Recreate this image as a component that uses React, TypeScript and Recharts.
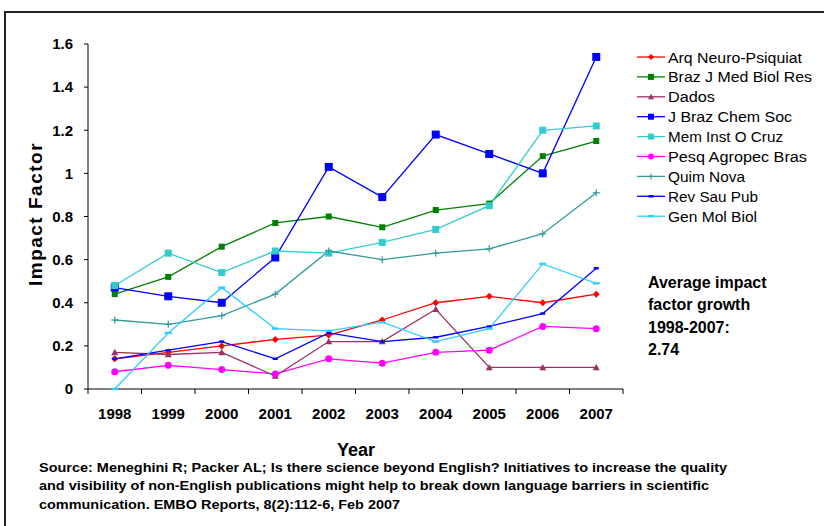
import { LineChart, Line, XAxis, YAxis } from 'recharts'

const years = [1998, 1999, 2000, 2001, 2002, 2003, 2004, 2005, 2006, 2007]
const yTicks = [0, 0.2, 0.4, 0.6, 0.8, 1, 1.2, 1.4, 1.6]

const arqNeuro = [0.14, 0.17, 0.2, 0.23, 0.25, 0.32, 0.4, 0.43, 0.4, 0.44]
const brazJMed = [0.44, 0.52, 0.66, 0.77, 0.8, 0.75, 0.83, 0.86, 1.08, 1.15]
const dados = [0.17, 0.16, 0.17, 0.06, 0.22, 0.22, 0.37, 0.1, 0.1, 0.1]
const jBrazChem = [0.47, 0.43, 0.4, 0.61, 1.03, 0.89, 1.18, 1.09, 1.0, 1.54]
const memInst = [0.48, 0.63, 0.54, 0.64, 0.63, 0.68, 0.74, 0.85, 1.2, 1.22]
const pesqAgro = [0.08, 0.11, 0.09, 0.07, 0.14, 0.12, 0.17, 0.18, 0.29, 0.28]
const quimNova = [0.32, 0.3, 0.34, 0.44, 0.64, 0.6, 0.63, 0.65, 0.72, 0.91]
const revSau = [0.14, 0.18, 0.22, 0.14, 0.26, 0.22, 0.24, 0.29, 0.35, 0.56]
const genMol = [0, 0.26, 0.47, 0.28, 0.27, 0.31, 0.22, 0.28, 0.58, 0.49]

const sourceLines = [
  'Source: Meneghini R; Packer AL; Is there science beyond English? Initiatives to increase the quality',
  'and visibility of non-English publications might help to break down language barriers in scientific',
  'communication. EMBO Reports, 8(2):112-6, Feb 2007',
]
const noteLines = ['Average impact', 'factor growth', '1998-2007:', '2.74']

type Kind = 'diamond' | 'square' | 'triangle' | 'circle' | 'plus' | 'dash'

const series: { key: string; name: string; values: number[]; color: string; kind: Kind; size: number }[] = [
  { key: 'arq', name: 'Arq Neuro-Psiquiat', values: arqNeuro, color: '#FF0000', kind: 'diamond', size: 7 },
  { key: 'braz', name: 'Braz J Med Biol Res', values: brazJMed, color: '#008000', kind: 'square', size: 6 },
  { key: 'dados', name: 'Dados', values: dados, color: '#993366', kind: 'triangle', size: 7 },
  { key: 'jbcs', name: 'J Braz Chem Soc', values: jBrazChem, color: '#0000FF', kind: 'square', size: 8 },
  { key: 'mem', name: 'Mem Inst O Cruz', values: memInst, color: '#33CCCC', kind: 'square', size: 7 },
  { key: 'pesq', name: 'Pesq Agropec Bras', values: pesqAgro, color: '#FF00FF', kind: 'circle', size: 7 },
  { key: 'quim', name: 'Quim Nova', values: quimNova, color: '#339999', kind: 'plus', size: 7 },
  { key: 'rev', name: 'Rev Sau Pub', values: revSau, color: '#0000FF', kind: 'dash', size: 5 },
  { key: 'gen', name: 'Gen Mol Biol', values: genMol, color: '#33CCFF', kind: 'dash', size: 7 },
]

// rendered widths of the legend labels in the original
const legendTextWidths = [134, 144, 47, 124, 115, 139, 77, 90, 89]
const sourceTextWidths = [688, 670, 361]

const data = years.map((year, i) => {
  const row: Record<string, number> = { year }
  series.forEach((s) => { row[s.key] = s.values[i] })
  return row
})

const xTicks = [...years.flatMap((y) => [y - 0.5, y]), years[years.length - 1] + 0.5]

const FONT = '"Liberation Sans", Arial, sans-serif'

function Marker({ kind, cx, cy, color, size }: { kind: Kind; cx: number; cy: number; color: string; size: number }) {
  const h = size / 2
  if (kind === 'diamond')
    return <polygon points={`${cx},${cy - h} ${cx + h},${cy} ${cx},${cy + h} ${cx - h},${cy}`} fill={color} />
  if (kind === 'square') return <rect x={cx - h} y={cy - h} width={size} height={size} fill={color} />
  if (kind === 'triangle')
    return <polygon points={`${cx},${cy - h} ${cx + h},${cy + h * 0.8} ${cx - h},${cy + h * 0.8}`} fill={color} />
  if (kind === 'circle') return <circle cx={cx} cy={cy} r={h} fill={color} />
  if (kind === 'plus')
    return (
      <g stroke={color} strokeWidth={1.2}>
        <line x1={cx - h} x2={cx + h} y1={cy} y2={cy} />
        <line x1={cx} x2={cx} y1={cy - h} y2={cy + h} />
      </g>
    )
  return <rect x={cx - h} y={cy - 1.2} width={size} height={2.4} fill={color} />
}

const XTick = (props: any) => {
  const { x, y, payload } = props
  const v = payload.value
  if (Number.isInteger(v)) {
    return (
      <text x={x} y={y + 25} textAnchor="middle" fontSize={15} fontWeight={700} fontFamily={FONT} fill="#000">
        {v}
      </text>
    )
  }
  return <line x1={x} x2={x} y1={y - 5} y2={y} stroke="#000" />
}

export default function App() {
  return (
    <div style={{ position: 'absolute', left: 0, top: 0, width: 824, height: 526, background: '#fff', overflow: 'hidden' }}>
      <LineChart width={824} height={526} data={data} margin={{ top: 44, right: 201, bottom: 107, left: 0 }}>
        <XAxis
          dataKey="year"
          type="number"
          domain={[1997.5, 2007.5]}
          ticks={xTicks}
          interval={0}
          tickLine={false}
          tickSize={5}
          tickMargin={0}
          height={30}
          axisLine={{ stroke: '#000' }}
          tick={<XTick />}
        />
        <XAxis
          xAxisId="top"
          orientation="top"
          dataKey="year"
          type="number"
          domain={[1997.5, 2007.5]}
          tick={false}
          tickLine={false}
          height={0}
          axisLine={{ stroke: '#000' }}
        />
        <YAxis
          domain={[0, 1.6]}
          ticks={yTicks}
          width={88}
          tickSize={4}
          tickMargin={11}
          axisLine={{ stroke: '#000' }}
          tickLine={{ stroke: '#000' }}
          tick={{ fill: '#000', fontSize: 15, fontWeight: 700, fontFamily: FONT }}
        />
        <YAxis
          yAxisId="right"
          orientation="right"
          domain={[0, 1.6]}
          tick={false}
          tickLine={false}
          width={0}
          axisLine={{ stroke: '#000' }}
        />
        {series.map((s) => (
          <Line
            key={s.key}
            dataKey={s.key}
            name={s.name}
            stroke={s.color}
            strokeWidth={1.3}
            isAnimationActive={false}
            activeDot={false}
            dot={(p: any) => (
              <Marker key={`${s.key}-${p.index}`} kind={s.kind} cx={p.cx} cy={p.cy} color={s.color} size={s.size} />
            )}
          />
        ))}
      </LineChart>
      <svg width={824} height={526} style={{ position: 'absolute', left: 0, top: 0, pointerEvents: 'none' }}>
        <rect x={5} y={12} width={900} height={600} fill="none" stroke="#222" strokeWidth={2} />
        <text
          transform="translate(42,214) rotate(-90)"
          textAnchor="middle"
          fontSize={19}
          fontWeight={700}
          letterSpacing={1.5}
          fontFamily={FONT}
          fill="#000"
        >
          Impact Factor
        </text>
        <text x={356} y={456} textAnchor="middle" fontSize={18} fontWeight={700} fontFamily={FONT} fill="#000">
          Year
        </text>
        {series.map((s, i) => {
          const cy = 57 + i * 19.9
          return (
            <g key={s.key}>
              <line x1={637} x2={665} y1={cy} y2={cy} stroke={s.color} strokeWidth={1.3} />
              <Marker kind={s.kind} cx={651} cy={cy} color={s.color} size={Math.min(s.size, 6)} />
              <text
                x={668}
                y={cy + 5.5}
                fontSize={15.5}
                fontFamily={FONT}
                fill="#000"
                textLength={legendTextWidths[i]}
                lengthAdjust="spacingAndGlyphs"
              >
                {s.name}
              </text>
            </g>
          )
        })}
        {noteLines.map((t, i) => (
          <text key={t} x={648} y={288 + i * 22.3} fontSize={16} fontWeight={700} fontFamily={FONT} fill="#000">
            {t}
          </text>
        ))}
        {sourceLines.map((t, i) => (
          <text
            key={i}
            x={39}
            y={472 + i * 18.3}
            fontSize={13}
            fontWeight={700}
            fontFamily={FONT}
            fill="#000"
            textLength={sourceTextWidths[i]}
            lengthAdjust="spacingAndGlyphs"
          >
            {t}
          </text>
        ))}
      </svg>
    </div>
  )
}
